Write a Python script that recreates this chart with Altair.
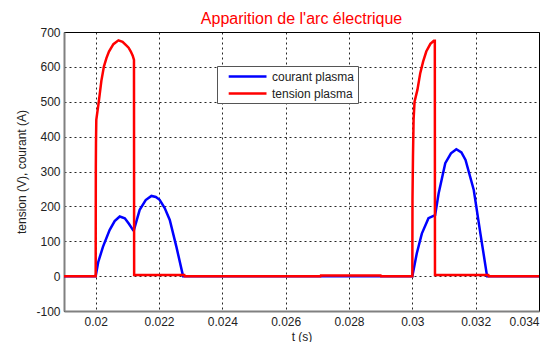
import altair as alt
import pandas as pd

# courant plasma (A)
t_courant = [0.019, 0.02, 0.02008, 0.02023, 0.02044, 0.02060, 0.02076, 0.02092,
             0.02105, 0.02118, 0.02121, 0.02139, 0.02158, 0.02176, 0.02190,
             0.02202, 0.02218, 0.02234, 0.02255, 0.02276,
             0.030, 0.03014, 0.0303, 0.03051, 0.03072, 0.03083, 0.03104,
             0.03122, 0.03139, 0.03155, 0.03168, 0.03194, 0.03215, 0.03236, 0.034]
v_courant = [0, 0, 40, 84, 132, 158, 171, 166,
             150, 132, 133, 190, 218, 230, 227,
             219, 195, 161, 84, 0,
             0, 65, 122, 166, 175, 237, 324,
             352, 364, 355, 333, 247, 122, 0, 0]

# tension plasma (V)
t_tension = [0.019, 0.02, 0.020005, 0.02001, 0.02002, 0.0201, 0.02018, 0.02026,
             0.02034, 0.02042, 0.02056, 0.02072, 0.02085, 0.02095, 0.02104,
             0.02111, 0.02117, 0.02121, 0.021215, 0.0228, 0.02281,
             0.0271, 0.02711, 0.029, 0.02901,
             0.030, 0.030005, 0.03002, 0.03004, 0.03007, 0.03016, 0.03025,
             0.03034, 0.03044, 0.03057, 0.03068, 0.03071, 0.030715,
             0.0324, 0.03241, 0.034]
v_tension = [0, 0, 315, 381, 448, 501, 560, 601,
             625, 644, 665, 676, 672, 663, 655,
             644, 632, 620, 3, 3, 0,
             0, 1.5, 1.5, 0,
             0, 220, 340, 450, 500, 534, 582,
             615, 644, 666, 675, 675, 3,
             3, 0, 0]

series = ["courant plasma", "tension plasma"]
colors = ["#0000ff", "#ff0000"]
x_ticks = [0.02, 0.022, 0.024, 0.026, 0.028, 0.03, 0.032, 0.034]
y_ticks = [-100, 0, 100, 200, 300, 400, 500, 600, 700]

df_c = pd.DataFrame({"t": t_courant, "v": v_courant, "s": series[0], "i": range(len(t_courant))})
df_t = pd.DataFrame({"t": t_tension, "v": v_tension, "s": series[1], "i": range(len(t_tension))})

x = alt.X("t:Q", scale=alt.Scale(domain=[0.019, 0.034], nice=False, zero=False),
          axis=alt.Axis(values=x_ticks, title="t (s)", labelExpr="format(datum.value, '~g')"))
y = alt.Y("v:Q", scale=alt.Scale(domain=[-100, 700], nice=False),
          axis=alt.Axis(values=y_ticks, title="tension (V), courant (A)",
                        labelExpr="toString(datum.value)"))
color = alt.Color("s:N", scale=alt.Scale(domain=series, range=colors),
                  legend=alt.Legend(title=None))

base_c = alt.Chart(df_c).mark_line(strokeWidth=2.5, clip=True).encode(
    x=x, y=y, color=color, order="i:Q")
base_t = alt.Chart(df_t).mark_line(strokeWidth=2.5, clip=True).encode(
    x=x, y=y, color=color, order="i:Q")

chart = (base_c + base_t).properties(
    width=475, height=279,
    title=alt.TitleParams("Apparition de l'arc électrique", color="#ff0000",
                          fontSize=16, font="Liberation Sans", fontWeight="normal",
                          offset=7, dy=8, anchor="middle"),
    autosize=alt.AutoSizeParams(type="none"),
    padding={"left": 56, "top": 24, "right": 13, "bottom": 34},
).configure_view(
    stroke="#000000", strokeWidth=1
).configure_axis(
    labelFont="Liberation Sans", titleFont="Liberation Sans",
    labelFontSize=12, titleFontSize=12, labelColor="#222222", titleColor="#222222",
    titleFontWeight="normal",
    grid=True, gridColor="#000000", gridDash=[2, 3], gridWidth=1, gridOpacity=0.85,
    domainColor="#808080", domainWidth=2, ticks=False, labelPadding=5,
).configure_axisY(
    titlePadding=7, labelPadding=4
).configure_axisX(
    titlePadding=4
).configure_legend(
    orient="none", legendX=153, legendY=34,
    fillColor="#ffffff", strokeColor="#555555", padding=3,
    symbolType="M0.2,0H6.5", symbolSize=144, symbolStrokeWidth=2.5,
    labelFont="Liberation Sans", labelFontSize=12, labelColor="#222222",
    labelOffset=37, rowPadding=3,
)

chart.save("out.html", embed_options={"renderer": "svg", "actions": False})
